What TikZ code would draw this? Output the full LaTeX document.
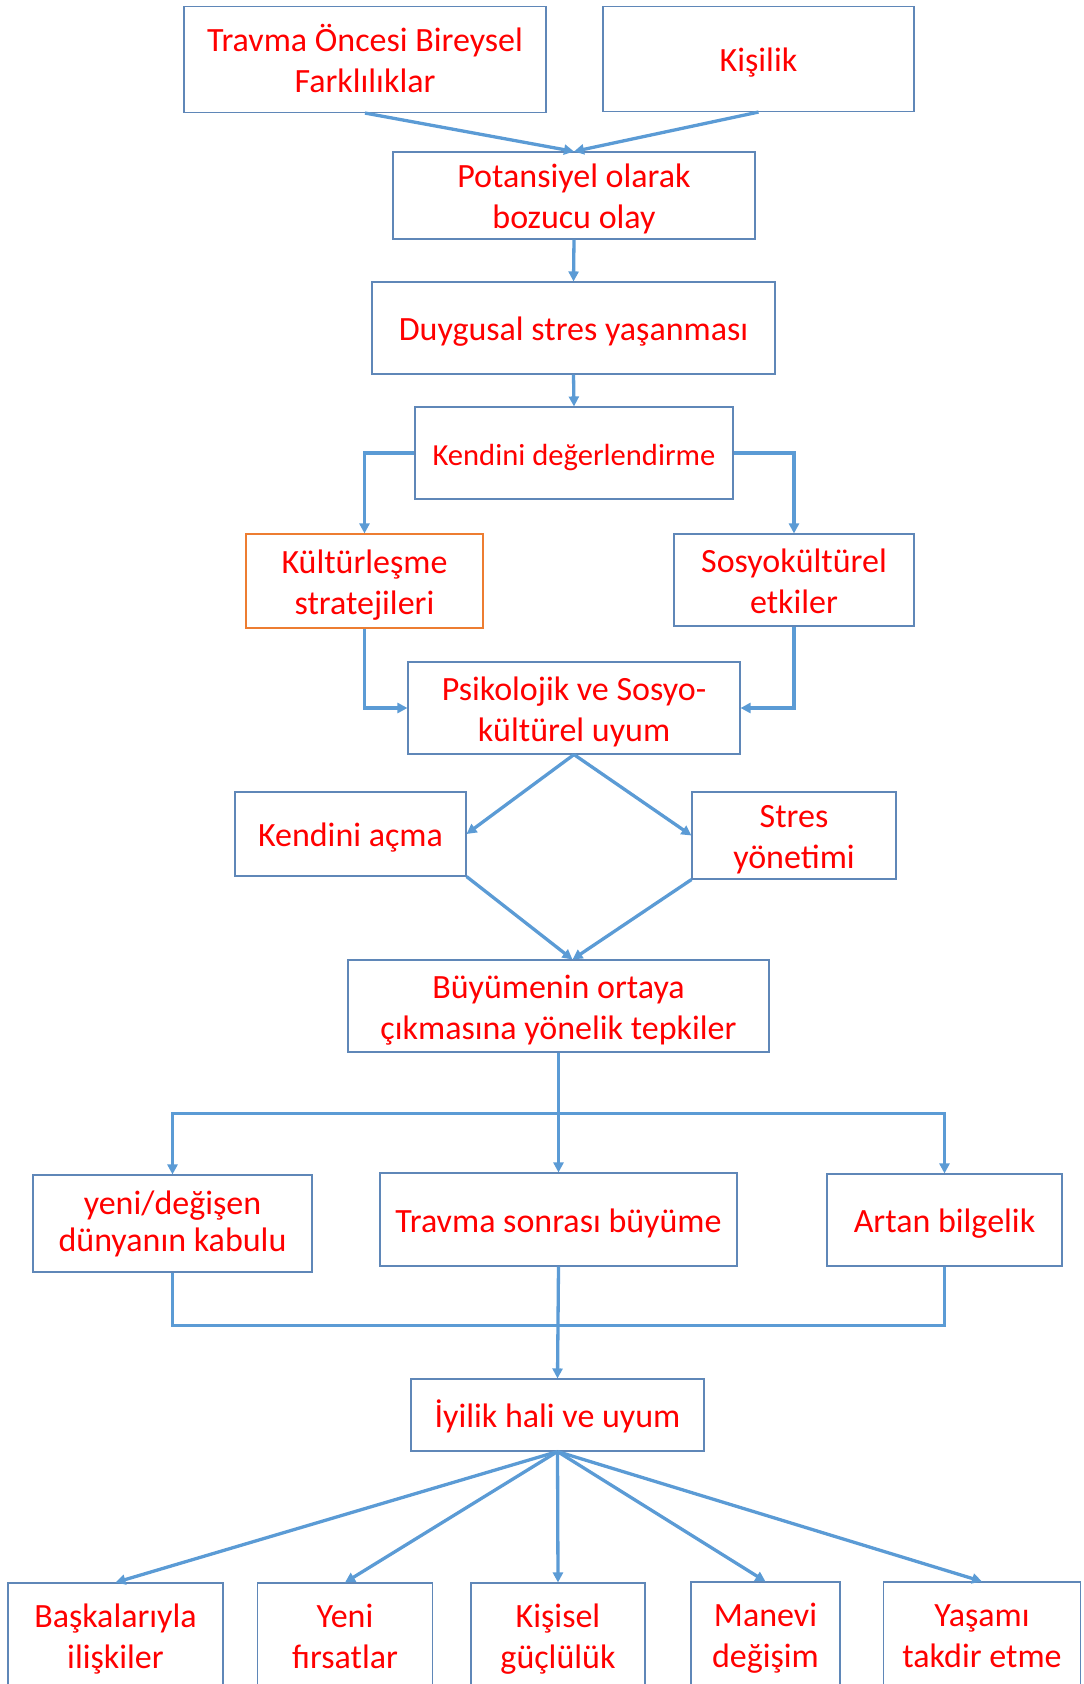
\documentclass[tikz,border=0pt]{standalone}
\usepackage{fontspec}
\setmainfont{Carlito}
\usetikzlibrary{positioning,arrows.meta,calc}
\definecolor{lineblue}{HTML}{5B9BD5}
\definecolor{boxblue}{HTML}{5F87B8}
\definecolor{boxorange}{HTML}{ED7D31}
% struts for the first and last line of a box
\newcommand{\strutH}{\rule{0pt}{35.5pt}}
\newcommand{\strutD}{\rule[-10pt]{0pt}{10pt}}

\begin{document}
\begin{tikzpicture}[x=1pt,y=-1pt,
  box/.style={draw=boxblue,line width=1.1pt,fill=white,align=center,inner sep=0pt,
    text=red,font=\fontsize{34}{41}\selectfont},
  link/.style={draw=lineblue,line width=3.3pt,-{Triangle[length=10pt,width=10pt]}},
  bar/.style={draw=lineblue,line width=3.3pt}]
\useasboundingbox (0,0) rectangle (1084,1684);

\node (trv)[box,minimum width=362,minimum height=106] at (365,59.5) {\strutH Travma Öncesi Bireysel\\Farklılıklar\strutD};
\node (kis)[box,minimum width=311,minimum height=105] at (758.5,59) {\strutH Kişilik\strutD};
\node (pot)[box,minimum width=362,minimum height=87] at (574,195.5) {\strutH Potansiyel olarak\\bozucu olay\strutD};
\node (duy)[box,minimum width=403,minimum height=92] at (573.5,328) {\strutH Duygusal stres yaşanması\strutD};
\node (kdeg)[box,minimum width=318,minimum height=92,font=\fontsize{30.6}{37}\selectfont] at (574,453) {\strutH Kendini değerlendirme\strutD};
\node (kult)[box,draw=boxorange,minimum width=237,minimum height=94] at (364.5,581) {\strutH Kültürleşme\\stratejileri\strutD};
\node (sosyo)[box,minimum width=240,minimum height=92] at (794,580) {\strutH Sosyokültürel\\etkiler\strutD};
\node (psi)[box,minimum width=332,minimum height=92] at (574,708) {\strutH Psikolojik ve Sosyo-\\kültürel uyum\strutD};
\node (kacma)[box,minimum width=231,minimum height=84] at (350.5,834) {\strutH Kendini açma\strutD};
\node (stres)[box,minimum width=204,minimum height=87] at (794,835.5) {\strutH Stres\\yönetimi\strutD};
\node (buy)[box,minimum width=421,minimum height=92] at (558.5,1006) {\strutH Büyümenin ortaya\\çıkmasına yönelik tepkiler\strutD};

\node (yeni)[box,minimum width=279,minimum height=97,font=\fontsize{34}{37.5}\selectfont] at (172.5,1223.5) {\strutH yeni/değişen\\dünyanın kabulu\rule[-17pt]{0pt}{17pt}};
\node (tsb)[box,minimum width=357,minimum height=93] at (558.5,1219.5) {\strutH Travma sonrası büyüme\strutD};
\node (artan)[box,minimum width=235,minimum height=92] at (944.5,1220) {\strutH Artan bilgelik\strutD};
\node (iyi)[box,minimum width=293,minimum height=72] at (557.5,1415) {\strutH İyilik hali ve uyum\strutD};

\node (bas)[box,minimum width=215,minimum height=104] at (115.5,1635) {\strutH Başkalarıyla\\ilişkiler\strutD};
\node (yf)[box,minimum width=175,minimum height=104] at (345,1635) {\strutH Yeni\\fırsatlar\strutD};
\node (kg)[box,minimum width=174,minimum height=104] at (558,1635) {\strutH Kişisel\\güçlülük\strutD};
\node (man)[box,minimum width=149,minimum height=104] at (765.5,1634) {\strutH Manevi\\değişim\strutD};
\node (yas)[box,minimum width=197,minimum height=104] at (982,1634) {\strutH Yaşamı\\takdir etme\strutD};

\draw[link] (trv.south) -- (pot.north);
\draw[link] (kis.south) -- (pot.north);
\draw[link] (pot.south) -- (duy.north);
\draw[link] (duy.south) -- (kdeg.north);
\draw[link] (kdeg.west) -| (kult.north);
\draw[link] (kdeg.east) -| (sosyo.north);
\draw[link] (kult.south) |- (psi.west);
\draw[link] (sosyo.south) |- (psi.east);
\draw[link] (psi.south) -- (kacma.east);
\draw[link] (psi.south) -- (stres.west);
\coordinate (bt) at ($(buy.north)+(14,0)$);
\draw[link] (kacma.south east) -- (bt);
\draw[link] (stres.south west) -- (bt);

% branch and merge
\coordinate (split) at ($(buy.south)+(0,61)$);
\coordinate (join) at ($(tsb.south)+(0,59)$);
\draw[bar] (buy.south) -- (split);
\draw[link] (split) -| (yeni.north);
\draw[link] (split) -| (artan.north);
\draw[link] (split) -- (tsb.north);
\draw[bar] (yeni.south) |- (join) -| (artan.south);
\draw[link] (tsb.south) -- (iyi.north);

\foreach \n in {bas,yf,kg,man,yas}
  \draw[link] (iyi.south) -- (\n.north);
\end{tikzpicture}
\end{document}
